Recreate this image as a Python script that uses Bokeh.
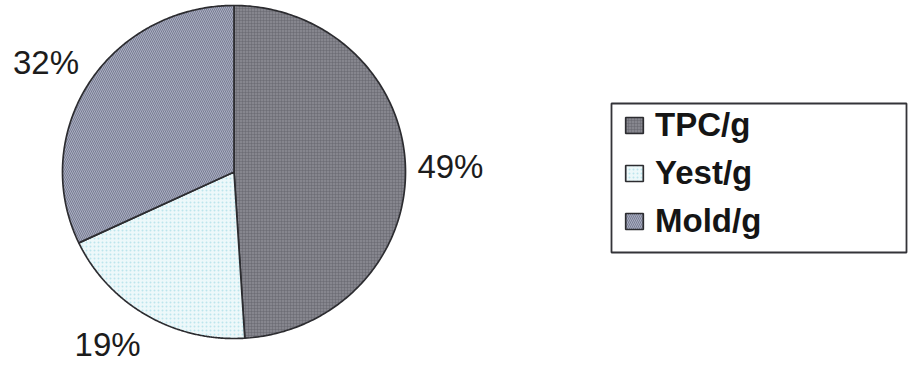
import numpy as np
from bokeh.plotting import figure
from bokeh.models import ColumnDataSource, Legend, LegendItem
from bokeh.core.properties import value
from bokeh.embed import file_html
from bokeh.resources import INLINE

# Share of each count in the sample (percent)
categories = ["TPC/g", "Yest/g", "Mold/g"]
shares = [49, 19, 32]
pct_labels = ["49%", "19%", "32%"]

# Slice styles
fills = ["#86868e", "#edf8fa", "#a9adc2"]
hatches = ["+", ".", "\\"]
hatch_colors = ["#66666e", "#a6dde7", "#6a6d82"]
hatch_scales = [3, 4, 4]
hatch_alphas = [0.5, 0.7, 0.75]

W, H = 909, 367
CX, CY = 233.5, H - 171.5     # pie centre (data units = pixels)
RX, RY = 171.5, 166.5         # pie radii
LABEL_GAP = 12                # gap between rim and percentage label

p = figure(width=W, height=H, x_range=(0, W), y_range=(0, H),
           x_axis_type=None, y_axis_type=None, min_border=0,
           toolbar_location=None, output_backend="svg")
p.grid.visible = False
p.outline_line_color = None
p.background_fill_color = "white"

# Slices run clockwise from 12 o'clock
frac = np.array(shares, dtype=float) / sum(shares)
ends = np.cumsum(frac) * 2 * np.pi
starts = ends - frac * 2 * np.pi

xs, ys = [], []
for a0, a1 in zip(starts, ends):
    t = np.linspace(a0, a1, 200)
    xs.append(np.concatenate([[CX], CX + RX * np.sin(t)]).tolist())
    ys.append(np.concatenate([[CY], CY + RY * np.cos(t)]).tolist())

src = ColumnDataSource(dict(xs=xs, ys=ys, fill=fills, hatch=hatches,
                            hcol=hatch_colors, hscale=hatch_scales,
                            halpha=hatch_alphas, name=categories))
pie = p.patches("xs", "ys", source=src, fill_color="fill",
                hatch_pattern="hatch", hatch_color="hcol",
                hatch_scale="hscale", hatch_alpha="halpha", hatch_weight=1,
                line_color="#2c2c30", line_width=1.7)

# Percentage labels just outside each slice's mid-angle
mid = (starts + ends) / 2
lx = CX + (RX + LABEL_GAP) * np.sin(mid)
ly = CY + (RY + LABEL_GAP) * np.cos(mid)
align = ["left" if s > 0.3 else ("right" if s < -0.3 else "center") for s in np.sin(mid)]
base = ["middle" if abs(c) < 0.3 else ("bottom" if c > 0 else "top") for c in np.cos(mid)]
nudge = [5 if c > 0.3 else 0 for c in np.cos(mid)]
lsrc = ColumnDataSource(dict(x=lx, y=ly, text=pct_labels, align=align,
                             base=base, dy=nudge))
p.text("x", "y", text="text", source=lsrc, text_align="align",
       text_baseline="base", y_offset="dy", text_font=value("Liberation Sans"),
       text_font_size="33px", text_color="#1c1c1c")

# Legend frame
p.quad(left=611, right=906, top=H - 103, bottom=H - 252,
       fill_color="white", line_color="#333338", line_width=1.8)

legend = Legend(
    items=[LegendItem(label=c, renderers=[pie], index=i) for i, c in enumerate(categories)],
    location=(623, 127),
    glyph_width=22, glyph_height=20, label_standoff=10, spacing=10,
    padding=0, margin=0, border_line_alpha=0, background_fill_alpha=0,
    label_text_font="Liberation Sans", label_text_font_style="bold",
    label_text_font_size="33px", label_text_color="#151515",
)
p.add_layout(legend)

open("out.html", "w").write(file_html(p, INLINE))
